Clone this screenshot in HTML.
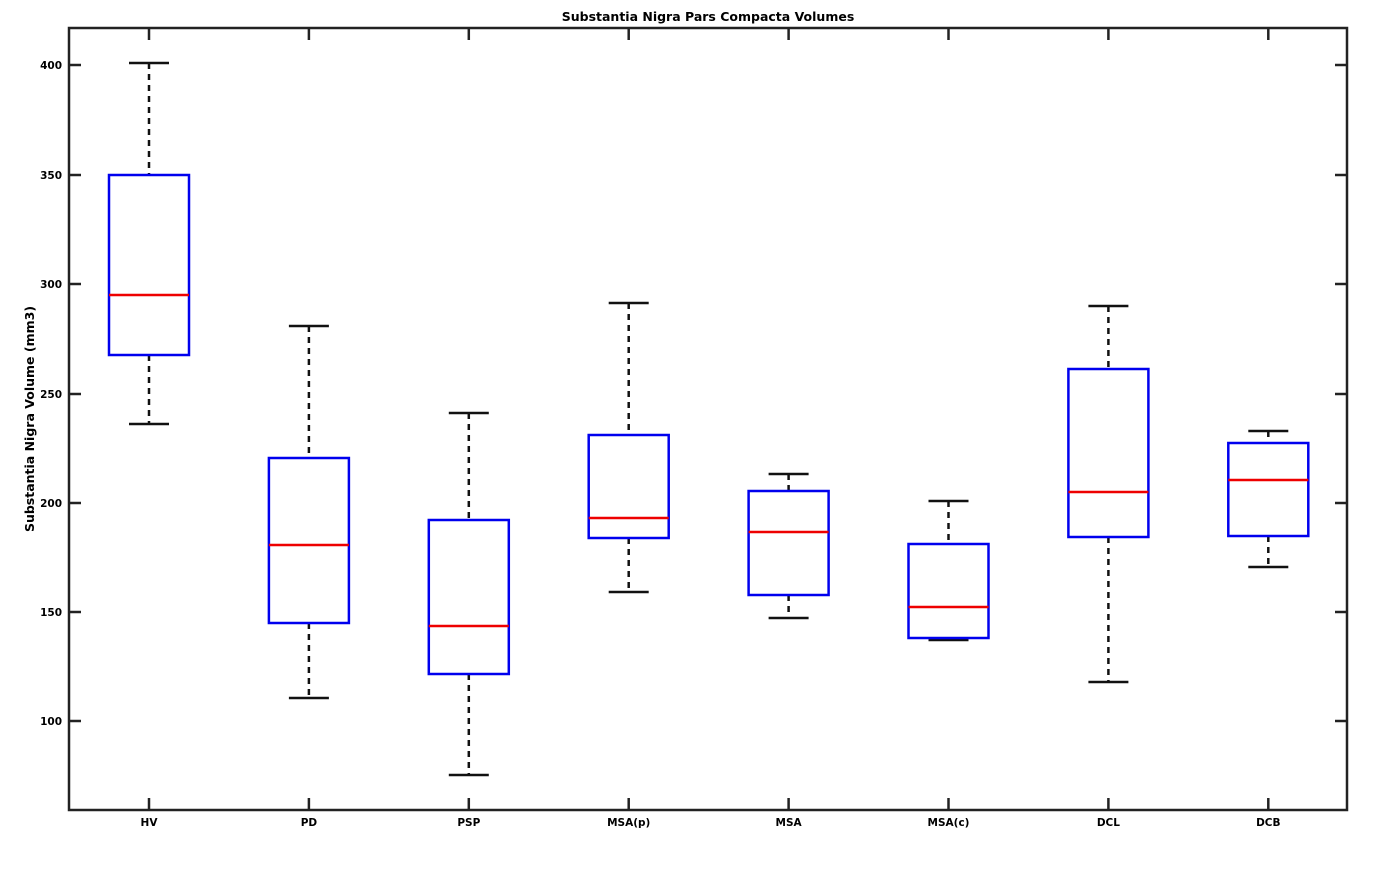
<!DOCTYPE html>
<html><head><style>body{margin:0;background:#fff}</style></head><body>
<svg width="1377" height="874" xmlns="http://www.w3.org/2000/svg" font-family="DejaVu Sans, Liberation Sans, sans-serif" font-weight="bold">
<rect width="1377" height="874" fill="#fff"/>
<text x="708" y="21" font-size="12.5" text-anchor="middle">Substantia Nigra Pars Compacta Volumes</text>
<text transform="translate(34,419) rotate(-90)" font-size="12.5" text-anchor="middle">Substantia Nigra Volume (mm3)</text>
<g stroke="#222" stroke-width="2.5" fill="none">
<rect x="69" y="28" width="1278" height="782"/>
</g>
<g id="ticks" stroke="#222" stroke-width="2.5"></g>
<g id="ylab" font-size="10.5" text-anchor="end"></g>
<g id="xlab" font-size="10.5" text-anchor="middle"></g>
<g id="boxes"></g>
<script>
var ns="http://www.w3.org/2000/svg";
function el(p,t,a,txt){var e=document.createElementNS(ns,t);for(var k in a)e.setAttribute(k,a[k]);if(txt)e.textContent=txt;document.getElementById(p).appendChild(e);}
[[400,65],[350,175],[300,284],[250,394],[200,503],[150,612],[100,721]].forEach(function(t){
el("ticks","line",{x1:69,x2:81,y1:t[1],y2:t[1]});el("ticks","line",{x1:1335,x2:1347,y1:t[1],y2:t[1]});
el("ylab","text",{x:62,y:t[1]+4},String(t[0]));});
var names=["HV","PD","PSP","MSA(p)","MSA","MSA(c)","DCL","DCB"];
var d=[[63,175,295,355,424],[326,458,545,623,698],[413,520,626,674,775],[303,435,518,538,592],[474,491,532,595,618],[501,544,607,638,640],[306,369,492,537,682],[431,443,480,536,567]];
d.forEach(function(b,i){var x=149+i*159.9;
el("ticks","line",{x1:x,x2:x,y1:28,y2:40});el("ticks","line",{x1:x,x2:x,y1:798,y2:810});
el("xlab","text",{x:x,y:826},names[i]);
var da={stroke:"#111","stroke-width":2.5,"stroke-dasharray":"6,5"};
el("boxes","line",Object.assign({x1:x,x2:x,y1:b[0],y2:b[1]},da));
el("boxes","line",Object.assign({x1:x,x2:x,y1:b[3],y2:b[4]},da));
el("boxes","line",{x1:x-20,x2:x+20,y1:b[0],y2:b[0],stroke:"#111","stroke-width":2.5});
el("boxes","line",{x1:x-20,x2:x+20,y1:b[4],y2:b[4],stroke:"#111","stroke-width":2.5});
el("boxes","rect",{x:x-40,y:b[1],width:80,height:b[3]-b[1],fill:"none",stroke:"#0000ee","stroke-width":2.5});
el("boxes","line",{x1:x-40,x2:x+40,y1:b[2],y2:b[2],stroke:"#ee0000","stroke-width":2.5});
});
</script>
</svg>
</body></html>
